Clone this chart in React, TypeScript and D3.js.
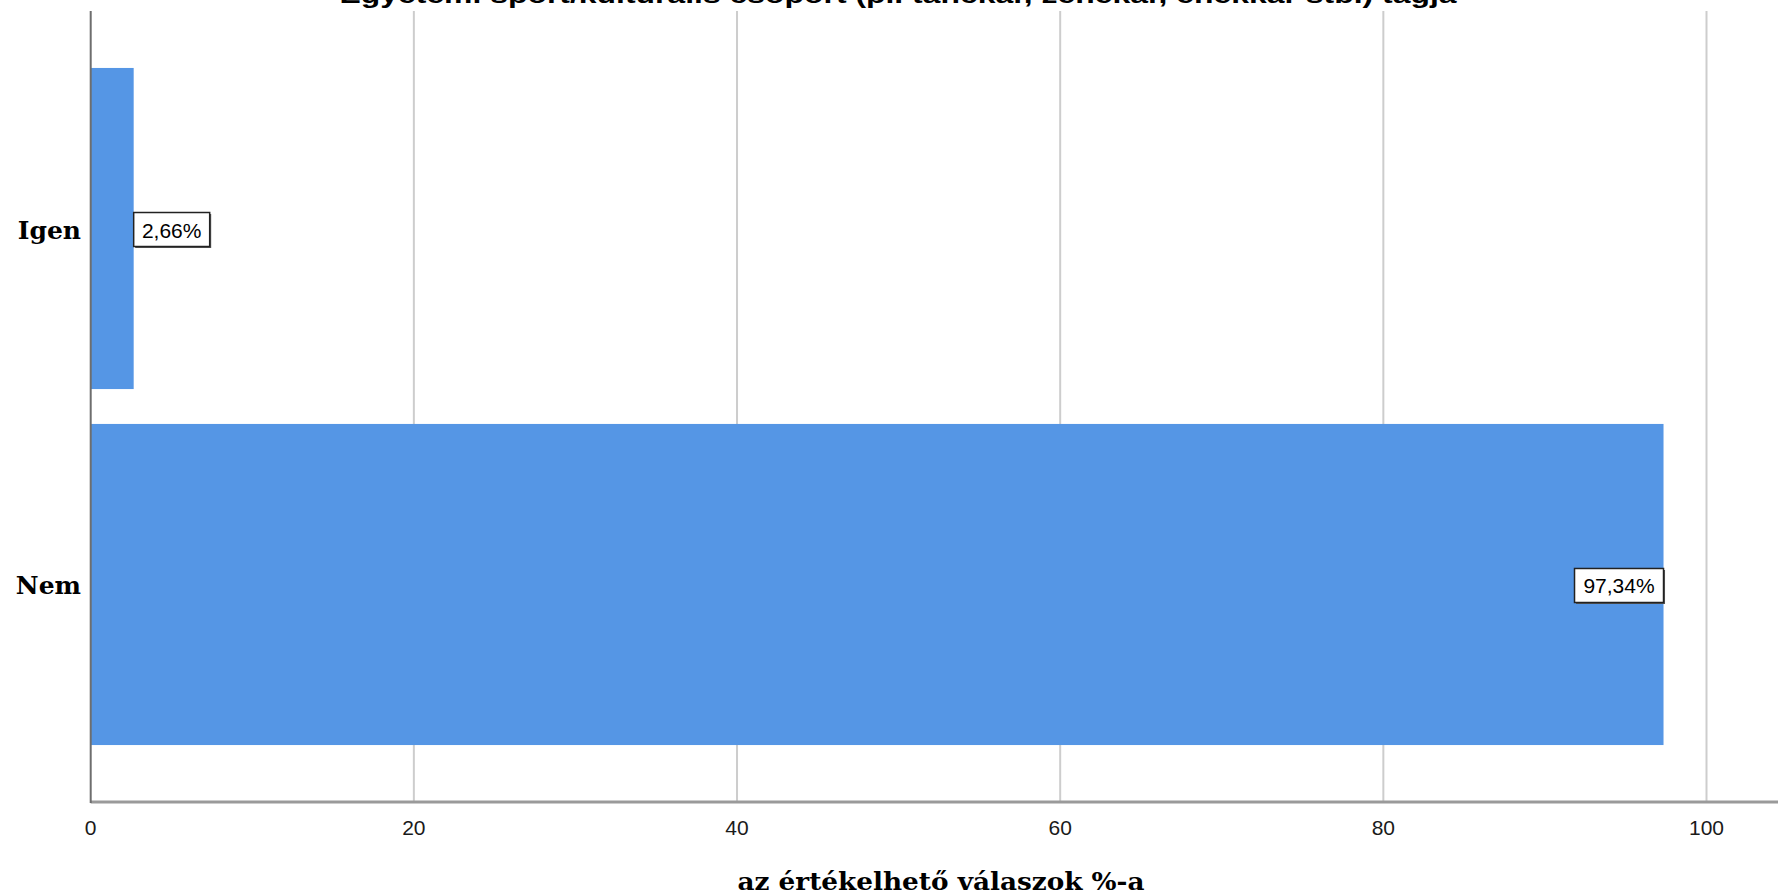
import React from "react";
import * as d3 from "d3";

const categories = ["Igen", "Nem"];
const values = [2.66, 97.34];
const valueLabels = ["2,66%", "97,34%"];
const xTicks = [0, 20, 40, 60, 80, 100];
const titleText = "Egyetemi sport/kulturális csoport (pl. tánckar, zenekar, énekkar stb.) tagja";
const xAxisTitle = "az értékelhető válaszok %-a";

const W = 1778;
const H = 896;
const plotLeft = 90.7;
const plotRight = 1706.5;
const plotTop = 11;
const plotBottom = 802;

export default function App() {
  const x = d3.scaleLinear().domain([0, 100]).range([plotLeft, plotRight]);
  const y = d3
    .scaleBand<string>()
    .domain(categories)
    .range([plotTop, plotBottom])
    .paddingInner(0.098)
    .paddingOuter(0.16);
  const bw = y.bandwidth();
  const sans = "'Liberation Sans', Arial, sans-serif";
  const serif = "'DejaVu Serif', serif";

  return (
    <svg
      width={W}
      height={H}
      style={{ position: "absolute", left: 0, top: 0, background: "#fff" }}
    >
      <rect x={0} y={0} width={W} height={H} fill="#fff" />
      {/* title (cut off at top, as in the reference) */}
      <text
        x={898}
        y={3}
        textAnchor="middle"
        fontFamily={sans}
        fontWeight="bold"
        fontSize={24}
        textLength={1117}
        lengthAdjust="spacingAndGlyphs"
        fill="#000"
      >
        {titleText}
      </text>
      {/* grid lines */}
      {xTicks.slice(1).map((t) => (
        <line
          key={t}
          x1={x(t)}
          x2={x(t)}
          y1={plotTop}
          y2={plotBottom}
          stroke="#cdcdcd"
          strokeWidth={2}
        />
      ))}
      {/* bars */}
      {categories.map((c, i) => (
        <rect
          key={c}
          x={x(0)}
          y={y(c)!}
          width={x(values[i]) - x(0)}
          height={bw}
          fill="#5596e5"
        />
      ))}
      {/* axes */}
      <line x1={plotLeft} x2={W} y1={plotBottom} y2={plotBottom} stroke="#9a9a9a" strokeWidth={3} />
      <line x1={plotLeft} x2={plotLeft} y1={plotTop} y2={plotBottom + 1} stroke="#6e6e6e" strokeWidth={2} />
      {/* x tick labels */}
      {xTicks.map((t) => (
        <text
          key={t}
          x={x(t)}
          y={835}
          textAnchor="middle"
          fontFamily={sans}
          fontSize={21}
          fill="#1a1a1a"
        >
          {t}
        </text>
      ))}
      {/* category labels */}
      {categories.map((c) => (
        <text
          key={c}
          x={81}
          y={y(c)! + bw / 2 + 10}
          textAnchor="end"
          fontFamily={serif}
          fontWeight="bold"
          fontSize={25}
          fill="#000"
        >
          {c}
        </text>
      ))}
      {/* value labels */}
      {categories.map((c, i) => {
        const outside = values[i] < 10;
        const boxW = valueLabels[i].length * 13 + 11;
        const boxH = 34;
        const xe = x(values[i]);
        const bx = outside ? xe : xe - boxW;
        const cy = y(c)! + bw / 2 + 1;
        return (
          <g key={c}>
            <rect x={bx + 1.5} y={cy - boxH / 2 + 1.5} width={boxW} height={boxH} fill="#555" />
            <rect
              x={bx}
              y={cy - boxH / 2}
              width={boxW}
              height={boxH}
              fill="#fff"
              stroke="#222"
              strokeWidth={1.5}
            />
            <text
              x={bx + boxW / 2}
              y={cy + 8}
              textAnchor="middle"
              fontFamily={sans}
              fontSize={21}
              fill="#000"
            >
              {valueLabels[i]}
            </text>
          </g>
        );
      })}
      {/* x axis title */}
      <text
        x={941}
        y={890}
        textAnchor="middle"
        fontFamily={serif}
        fontWeight="bold"
        fontSize={24}
        textLength={407}
        lengthAdjust="spacingAndGlyphs"
        fill="#000"
      >
        {xAxisTitle}
      </text>
    </svg>
  );
}
